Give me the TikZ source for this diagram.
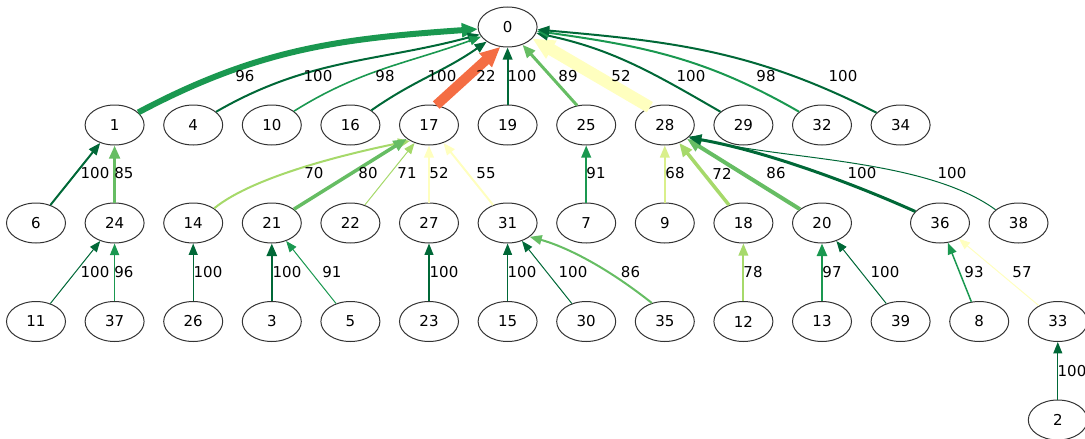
\documentclass[tikz,border=0pt]{standalone}
\usepackage{fontspec}
\setmainfont{DejaVu Sans}
\usetikzlibrary{shapes.geometric,arrows.meta}
\definecolor{gA}{HTML}{006837}
\definecolor{gB}{HTML}{1A9850}
\definecolor{gC}{HTML}{66BD63}
\definecolor{gD}{HTML}{A6D96A}
\definecolor{gE}{HTML}{D9EF8B}
\definecolor{gF}{HTML}{FFFFBF}
\definecolor{gR}{HTML}{F46D43}
\begin{document}
\begin{tikzpicture}[x=1pt,y=-1pt,
  nd/.style={ellipse, draw=black!80, line width=1pt, minimum width=59pt, minimum height=40pt, inner sep=0pt, font=\fontsize{15pt}{18pt}\selectfont},
  lb/.style={inner sep=0pt, font=\fontsize{15pt}{18pt}\selectfont},
  ed/.style 2 args={draw=#1, line width=#2, -{Triangle[length=10pt 1, width=7.5pt 1]}}]
\useasboundingbox (0,0) rectangle (1085,439);
% row 0
\node[nd] (n0) at (507.6,27) {0};
% row 1
\node[nd] (n1) at (114.6,125) {1};
\node[nd] (n4) at (193.2,125) {4};
\node[nd] (n10) at (271.8,125) {10};
\node[nd] (n16) at (350.4,125) {16};
\node[nd] (n17) at (429,125) {17};
\node[nd] (n19) at (507.6,125) {19};
\node[nd] (n25) at (586.2,125) {25};
\node[nd] (n28) at (664.8,125) {28};
\node[nd] (n29) at (743.4,125) {29};
\node[nd] (n32) at (822,125) {32};
\node[nd] (n34) at (900.6,125) {34};
% row 2
\node[nd] (n6) at (36,223) {6};
\node[nd] (n24) at (114.6,223) {24};
\node[nd] (n14) at (193.2,223) {14};
\node[nd] (n21) at (271.8,223) {21};
\node[nd] (n22) at (350.4,223) {22};
\node[nd] (n27) at (429,223) {27};
\node[nd] (n31) at (507.6,223) {31};
\node[nd] (n7) at (586.2,223) {7};
\node[nd] (n9) at (664.8,223) {9};
\node[nd] (n18) at (743.4,223) {18};
\node[nd] (n20) at (822,223) {20};
\node[nd] (n36) at (940,223) {36};
\node[nd] (n38) at (1018.5,223) {38};
% row 3
\node[nd] (n11) at (36,321.5) {11};
\node[nd] (n37) at (114.6,321.5) {37};
\node[nd] (n26) at (193.2,321.5) {26};
\node[nd] (n3) at (271.8,321.5) {3};
\node[nd] (n5) at (350.4,321.5) {5};
\node[nd] (n23) at (429,321.5) {23};
\node[nd] (n15) at (507.6,321.5) {15};
\node[nd] (n30) at (586.2,321.5) {30};
\node[nd] (n35) at (664.8,321.5) {35};
\node[nd] (n12) at (743.4,321.5) {12};
\node[nd] (n13) at (822,321.5) {13};
\node[nd] (n39) at (900.6,321.5) {39};
\node[nd] (n8) at (979.2,321.5) {8};
\node[nd] (n33) at (1057.8,321.5) {33};
% row 4
\node[nd] (n2) at (1057.8,420) {2};

% edges to 0
\draw[ed={gB}{6pt}] (n1) to[out=28,in=184] (n0);
\draw[ed={gA}{2pt}] (n4) to[out=30,in=195] (n0);
\draw[ed={gB}{1.6pt}] (n10) to[out=32,in=200] (n0);
\draw[ed={gA}{2pt}] (n16) to[out=35,in=215] (n0);
\draw[ed={gR}{10pt}] (n17.70) -- (n0.250);
\draw[ed={gA}{2pt}] (n19) -- (n0);
\draw[ed={gC}{3pt}] (n25.115) -- (n0.-50);
\draw[ed={gF}{12pt}] (n28.130) -- (n0.-25);
\draw[ed={gA}{2pt}] (n29) to[out=150,in=-12] (n0);
\draw[ed={gB}{2pt}] (n32) to[out=150,in=-8] (n0);
\draw[ed={gA}{2pt}] (n34) to[out=153,in=-5] (n0);
% row 2 -> row 1
\draw[ed={gA}{2pt}] (n6) -- (n1);
\draw[ed={gC}{3pt}] (n24) -- (n1);
\draw[ed={gD}{2pt}] (n14.35) .. controls (255,175) and (355,152) .. (n17.220);
\draw[ed={gC}{3.5pt}] (n21) -- (n17);
\draw[ed={gD}{1pt}] (n22) -- (n17);
\draw[ed={gF}{2pt}] (n27) -- (n17);
\draw[ed={gF}{2pt}] (n31) -- (n17);
\draw[ed={gB}{2pt}] (n7) -- (n25);
\draw[ed={gE}{2pt}] (n9) -- (n28);
\draw[ed={gD}{3.5pt}] (n18) -- (n28);
\draw[ed={gC}{4pt}] (n20) -- (n28);
\draw[ed={gA}{3pt}] (n36.155) .. controls (845,180) and (760,150) .. (n28.-28);
\draw[ed={gA}{1pt}] (n38.150) .. controls (925,158) and (780,160) .. (n28.-25);
% row 3 -> row 2
\draw[ed={gA}{1pt}] (n11) -- (n24);
\draw[ed={gB}{1.5pt}] (n37) -- (n24);
\draw[ed={gA}{1.3pt}] (n26) -- (n14);
\draw[ed={gA}{2.5pt}] (n3) -- (n21);
\draw[ed={gB}{1pt}] (n5) -- (n21);
\draw[ed={gA}{1.3pt}] (n23) -- (n27);
\draw[ed={gA}{1.3pt}] (n15) -- (n31);
\draw[ed={gA}{1pt}] (n30) -- (n31);
\draw[ed={gC}{2pt}] (n35.125) .. controls (600,262) and (560,245) .. (n31.-32);
\draw[ed={gD}{2pt}] (n12) -- (n18);
\draw[ed={gB}{2.5pt}] (n13) -- (n20);
\draw[ed={gA}{1pt}] (n39) -- (n20);
\draw[ed={gB}{1.5pt}] (n8) -- (n36);
\draw[ed={gF}{1pt}] (n33) -- (n36);
\draw[ed={gA}{1.3pt}] (n2) -- (n33);

% labels row 0-1
\node[lb] (l1) at (245,76) {96};
\node[lb] (l4) at (318,76) {100};
\node[lb] (l10) at (385,76) {98};
\node[lb] (l16) at (442,76) {100};
\node[lb] (l17) at (486,76) {22};
\node[lb] (l19) at (522,76) {100};
\node[lb] (l25) at (568,76) {89};
\node[lb] (l28) at (621,76) {52};
\node[lb] (l29) at (691,76) {100};
\node[lb] (l32) at (766,76) {98};
\node[lb] (l34) at (843,76) {100};
% labels row 1-2
\node[lb] (l6) at (95,173.5) {100};
\node[lb] (l24) at (124,173.5) {85};
\node[lb] (l14) at (314,173.5) {70};
\node[lb] (l21) at (368,173.5) {80};
\node[lb] (l22) at (407,173.5) {71};
\node[lb] (l27) at (439,173.5) {52};
\node[lb] (l31) at (486,173.5) {55};
\node[lb] (l7) at (596,173.5) {91};
\node[lb] (l9) at (675,173.5) {68};
\node[lb] (l18) at (722,173.5) {72};
\node[lb] (l20) at (776,173.5) {86};
\node[lb] (l36) at (862,173.5) {100};
\node[lb] (l38) at (952,173.5) {100};
% labels row 2-3
\node[lb] (l11) at (95,272) {100};
\node[lb] (l37) at (124,272) {96};
\node[lb] (l26) at (208,272) {100};
\node[lb] (l3) at (287,272) {100};
\node[lb] (l5) at (332,272) {91};
\node[lb] (l23) at (444,272) {100};
\node[lb] (l15) at (522,272) {100};
\node[lb] (l30) at (573,272) {100};
\node[lb] (l35) at (630.5,272) {86};
\node[lb] (l12) at (753,272) {78};
\node[lb] (l13) at (832,272) {97};
\node[lb] (l39) at (885,272) {100};
\node[lb] (l8) at (974,272) {93};
\node[lb] (l33) at (1022,272) {57};
% label row 3-4
\node[lb] (l2) at (1072,371) {100};
\end{tikzpicture}
\end{document}
